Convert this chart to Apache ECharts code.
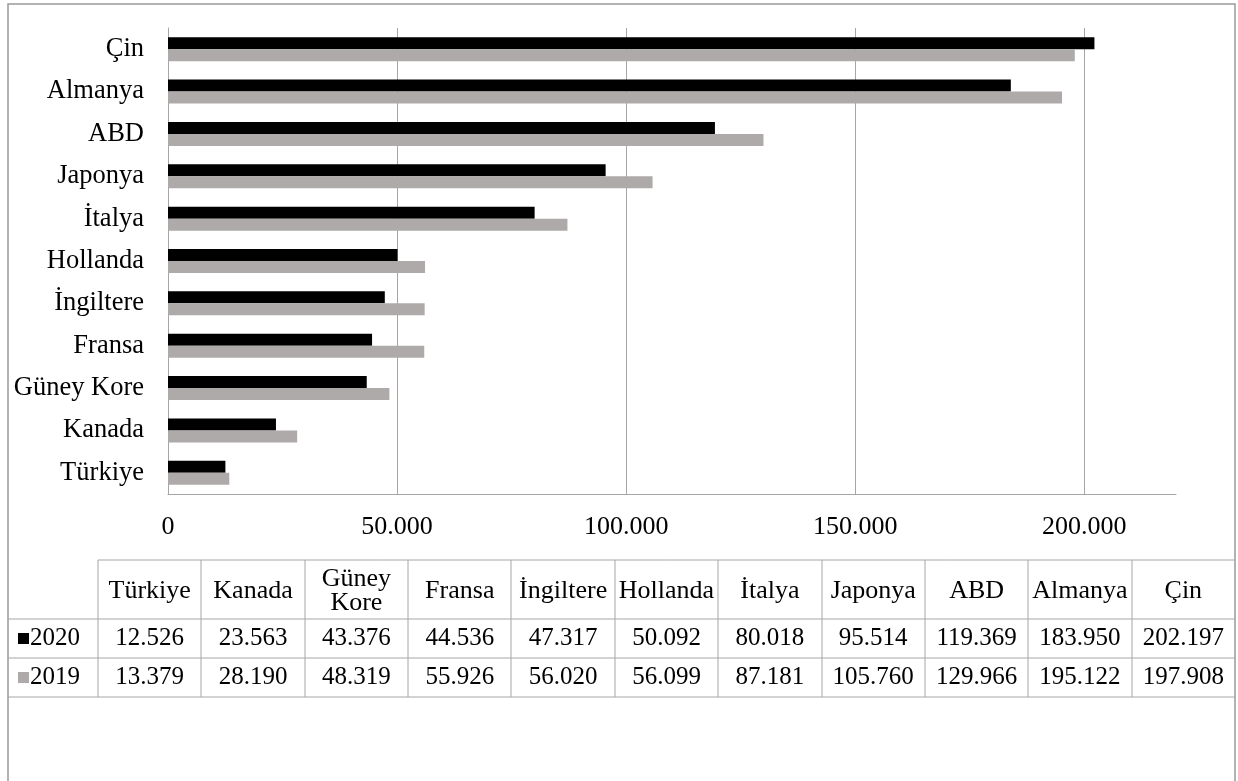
<!DOCTYPE html>
<html>
<head>
<meta charset="utf-8">
<script src="https://cdn.jsdelivr.net/npm/echarts@6/dist/echarts.min.js"></script>
<style>
  html, body { margin: 0; padding: 0; background: #fff; }
  #main { width: 1238px; height: 781px; }
</style>
</head>
<body>
<div id="main"></div>
<script>
// ülkeler (alttan üste)
const categories = ['Türkiye', 'Kanada', 'Güney Kore', 'Fransa', 'İngiltere', 'Hollanda', 'İtalya', 'Japonya', 'ABD', 'Almanya', 'Çin']
const years = ['2020', '2019']
const values2020 = [12526, 23563, 43376, 44536, 47317, 50092, 80018, 95514, 119369, 183950, 202197]
const values2019 = [13379, 28190, 48319, 55926, 56020, 56099, 87181, 105760, 129966, 195122, 197908]
const xTicks = [0, 50000, 100000, 150000, 200000]

const font = "'Liberation Serif', 'Times New Roman', serif"
const colors = { '2020': '#000000', '2019': '#aeaaaa' }
const lineGray = '#a6a6a6'

// binlik ayraç nokta
const fmt = v => String(v).replace(/\B(?=(\d{3})+(?!\d))/g, '.')

// tablo yerleşimi
const tLeft = 8, tFirst = 98, tRight = 1235
const colW = (tRight - tFirst) / categories.length
const rowY = [560, 619, 658, 697]

const graphics = []
// dış çerçeve
graphics.push({ type: 'rect', shape: { x: tLeft, y: 4, width: tRight - tLeft, height: 820 }, style: { fill: 'none', stroke: '#999', lineWidth: 1.5 }, silent: true })
// yatay çizgiler
graphics.push({ type: 'line', shape: { x1: tFirst, y1: rowY[0], x2: tRight, y2: rowY[0] }, style: { stroke: lineGray, lineWidth: 1 } })
for (let r = 1; r < rowY.length; r++) {
    graphics.push({ type: 'line', shape: { x1: tLeft, y1: rowY[r], x2: tRight, y2: rowY[r] }, style: { stroke: lineGray, lineWidth: 1 } })
}
// dikey çizgiler
for (let i = 0; i < categories.length; i++) {
    const x = Math.round(tFirst + i * colW)
    graphics.push({ type: 'line', shape: { x1: x, y1: rowY[0], x2: x, y2: rowY[3] }, style: { stroke: lineGray, lineWidth: 1 } })
}
// başlık hücreleri (Güney Kore iki satır)
categories.forEach((c, i) => {
    graphics.push({
        type: 'text', x: tFirst + (i + 0.5) * colW, y: (rowY[0] + rowY[1]) / 2 + 2,
        style: { text: c.replace(' ', '\n'), fontFamily: font, fontSize: 26, fill: '#000', align: 'center', verticalAlign: 'middle', lineHeight: 24 }
    })
})
// veri satırları
const rows = { '2020': values2020, '2019': values2019 }
years.forEach((yr, r) => {
    const cy = (rowY[r + 1] + rowY[r + 2]) / 2
    graphics.push({ type: 'rect', shape: { x: 18, y: cy - 5.5, width: 11, height: 11 }, style: { fill: colors[yr] } })
    graphics.push({ type: 'text', x: 30, y: cy, style: { text: yr, fontFamily: font, fontSize: 25, fill: '#000', align: 'left', verticalAlign: 'middle' } })
    rows[yr].forEach((v, i) => {
        graphics.push({
            type: 'text', x: tFirst + (i + 0.5) * colW, y: cy,
            style: { text: fmt(v), fontFamily: font, fontSize: 25, fill: '#000', align: 'center', verticalAlign: 'middle' }
        })
    })
})

const chart = echarts.init(document.getElementById('main'), null, { renderer: 'canvas' })
chart.setOption({
    animation: false,
    backgroundColor: '#fff',
    textStyle: { fontFamily: font },
    grid: { left: 168, right: 62, top: 28, bottom: 287, containLabel: false },
    xAxis: {
        type: 'value',
        min: 0,
        max: 220000,
        interval: 50000,
        axisLine: { show: true, lineStyle: { color: lineGray, width: 1 } },
        axisTick: { show: false },
        splitLine: { show: true, lineStyle: { color: [lineGray, lineGray, lineGray, lineGray, lineGray, 'rgba(0,0,0,0)'], width: 1 } },
        axisLabel: {
            margin: 20, color: '#000', fontFamily: font, fontSize: 26,
            showMaxLabel: false,
            formatter: v => xTicks.includes(v) ? fmt(v) : ''
        }
    },
    yAxis: {
        type: 'category',
        data: categories,
        axisLine: { show: true, lineStyle: { color: lineGray, width: 1 } },
        axisTick: { show: false },
        axisLabel: { margin: 24, color: '#000', fontFamily: font, fontSize: 26.5, padding: [6, 0, 0, 0] }
    },
    series: [
        { name: '2020', type: 'bar', data: values2020, barWidth: 12, barGap: '0%', itemStyle: { color: colors['2020'] } },
        { name: '2019', type: 'bar', data: values2019, barWidth: 12, barGap: '0%', itemStyle: { color: colors['2019'] } }
    ],
    graphic: graphics
})
</script>
</body>
</html>
